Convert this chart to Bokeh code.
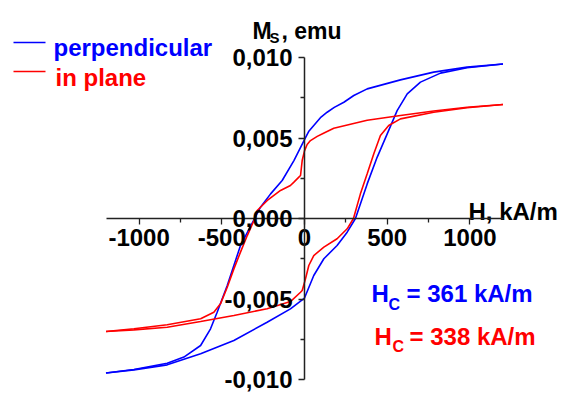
from bokeh.plotting import figure
from bokeh.models import Range1d, FixedTicker, CustomJSTickFormatter
from bokeh.core.properties import value
from bokeh.embed import file_html
from bokeh.resources import INLINE

# ---- data ----
perp_up_H = [1200, 983, 781, 580, 379, 298, 238, 180, 137, 100, 56, 25, 0, -64, -135, -205,
             -266, -302, -387, -467, -528, -568, -628, -729, -830, -1031, -1200]
perp_up_M = [0.0096, 0.0094, 0.00909, 0.00861, 0.00805, 0.00764, 0.00722, 0.0069, 0.0066,
             0.0063, 0.00578, 0.0054, 0.0049, 0.0036, 0.00236, 0.00153, 0.0007, 0.0,
             -0.00168, -0.00416, -0.00582, -0.00685, -0.00789, -0.00861, -0.00899,
             -0.00938, -0.0096]
perp_dn_H = [-1200, -1031, -830, -628, -427, -226, -85, 0, 56, 117, 197, 258, 308, 379,
             439, 500, 560, 621, 701, 822, 983, 1200]
perp_dn_M = [-0.0096, -0.0094, -0.00909, -0.0084, -0.00758, -0.00644, -0.00561, -0.00494,
             -0.00354, -0.0025, -0.00168, -0.00085, 0.0, 0.00215, 0.0038, 0.00526, 0.0067,
             0.00774, 0.00847, 0.00903, 0.00936, 0.0096]
plane_up_H = [1200, 983, 781, 580, 379, 278, 177, 115, 77, 36, 16, 0, -14, -24,
              -34, -64, -85, -145, -225, -286, -300, -346, -387, -427, -467, -508, -548,
              -628, -830, -1031, -1200]
plane_up_M = [0.00708, 0.00691, 0.00668, 0.0064, 0.0061, 0.00585, 0.0056, 0.0053, 0.0051,
              0.00484, 0.0046, 0.0042, 0.0036, 0.00267, 0.00257,
              0.00226, 0.00205, 0.00174, 0.00112, 0.0005, 0.0, -0.00106, -0.00209,
              -0.00313, -0.00427, -0.0053, -0.00582, -0.00623, -0.0066, -0.00685, -0.00702]
plane_dn_H = [-1200, -1031, -830, -628, -427, -226, -85, -24, -14, 6, 26, 56, 117, 197, 258,
              296, 338, 379, 419, 459, 509, 580, 781, 983, 1200]
plane_dn_M = [-0.00702, -0.00692, -0.00675, -0.0064, -0.00602, -0.00561, -0.00516, -0.00458,
              -0.00447, -0.00375, -0.00292, -0.0023, -0.00178, -0.00126, -0.00064, 0.0,
              0.00153, 0.00278, 0.00402, 0.00516, 0.00578, 0.00619, 0.0066, 0.00688, 0.00708]

x_ticks = [-1000, -500, 0, 500, 1000]
x_minor = [-750, -250, 250, 750]
y_ticks = [-0.01, -0.005, 0.0, 0.005, 0.01]
y_minor = [-0.0075, -0.0025, 0.0025, 0.0075]

series_names = ["perpendicular", "in plane"]
hc_texts = ["= 361 kA/m", "= 338 kA/m"]

BLUE = "#0000ff"
RED = "#ff0000"
FONT = value("Liberation Sans")

# ---- page-pixel -> data mapping (layout only) ----
W, H = 560, 395
OFF = 0
X0, SX = 304.0, 397.0 / 2400.0
Y0, SY = 218.0, 16100.0


def hx(px):
    return (px - X0) / SX


def my(py):
    return (Y0 - py) / SY


p = figure(width=W, height=H, output_backend="svg", toolbar_location=None,
           x_range=Range1d(hx(OFF), hx(OFF + W)), y_range=Range1d(my(OFF + H), my(OFF)),
           min_border=0, min_border_left=0, min_border_right=0,
           min_border_top=0, min_border_bottom=0)
p.outline_line_color = None
p.grid.visible = False
p.background_fill_color = "white"
p.border_fill_color = "white"

for ax, bnds in ((p.xaxis, (-1200, 1200)), (p.yaxis, (-0.01, 0.01))):
    ax.fixed_location = 0
    ax.bounds = bnds
    ax.axis_line_color = "#222222"
    ax.axis_line_width = 1.5
    ax.major_tick_line_color = "#222222"
    ax.minor_tick_line_color = "#222222"
    ax.major_tick_line_width = 1.3
    ax.minor_tick_line_width = 1.3
    ax.major_tick_out = 6
    ax.major_tick_in = 0
    ax.minor_tick_out = 4
    ax.minor_tick_in = 0
    ax.major_label_text_font = "Liberation Sans"
    ax.major_label_text_font_style = "bold"
    ax.major_label_text_font_size = "24px"
    ax.major_label_text_color = "black"

p.xaxis.ticker = FixedTicker(ticks=x_ticks, minor_ticks=x_minor)
p.yaxis.ticker = FixedTicker(ticks=y_ticks, minor_ticks=y_minor)
p.xaxis.formatter = CustomJSTickFormatter(code="return tick.toFixed(0);")
p.yaxis.formatter = CustomJSTickFormatter(code="return tick.toFixed(3).replace('.', ',');")
p.xaxis.major_label_standoff = 4
p.yaxis.major_label_standoff = 6

# ---- curves ----
LW = 1.6
p.line(perp_up_H, perp_up_M, line_color=BLUE, line_width=LW)
p.line(perp_dn_H, perp_dn_M, line_color=BLUE, line_width=LW)
p.line(plane_up_H, plane_up_M, line_color=RED, line_width=LW)
p.line(plane_dn_H, plane_dn_M, line_color=RED, line_width=LW)


def txt(px, py, s, color="black", size="22px"):
    p.text(x=[hx(px)], y=[my(py)], text=[s], text_font=FONT, text_font_style="bold",
           text_font_size=size, text_color=color, text_align="left",
           text_baseline="alphabetic")


# axis titles
txt(252, 30, "M", size="23px")
txt(269, 37, "S", size="15px")
txt(281, 30, ", emu", size="23px")
txt(468, 211, "H, kA/m", size="24px")

# legend
p.line([hx(13), hx(45)], [my(42), my(42)], line_color=BLUE, line_width=LW)
p.line([hx(13), hx(45)], [my(71), my(71)], line_color=RED, line_width=LW)
txt(53, 47, series_names[0], color=BLUE, size="24px")
txt(55, 77, series_names[1], color=RED, size="24px")

# coercivity annotations
txt(371, 293, "H", color=BLUE, size="24px")
txt(388, 304, "C", color=BLUE, size="16px")
txt(406, 293, hc_texts[0], color=BLUE, size="24px")
txt(374, 336, "H", color=RED, size="24px")
txt(392, 346, "C", color=RED, size="16px")
txt(409, 336, hc_texts[1], color=RED, size="24px")

open("out.html", "w").write(file_html(p, INLINE))
